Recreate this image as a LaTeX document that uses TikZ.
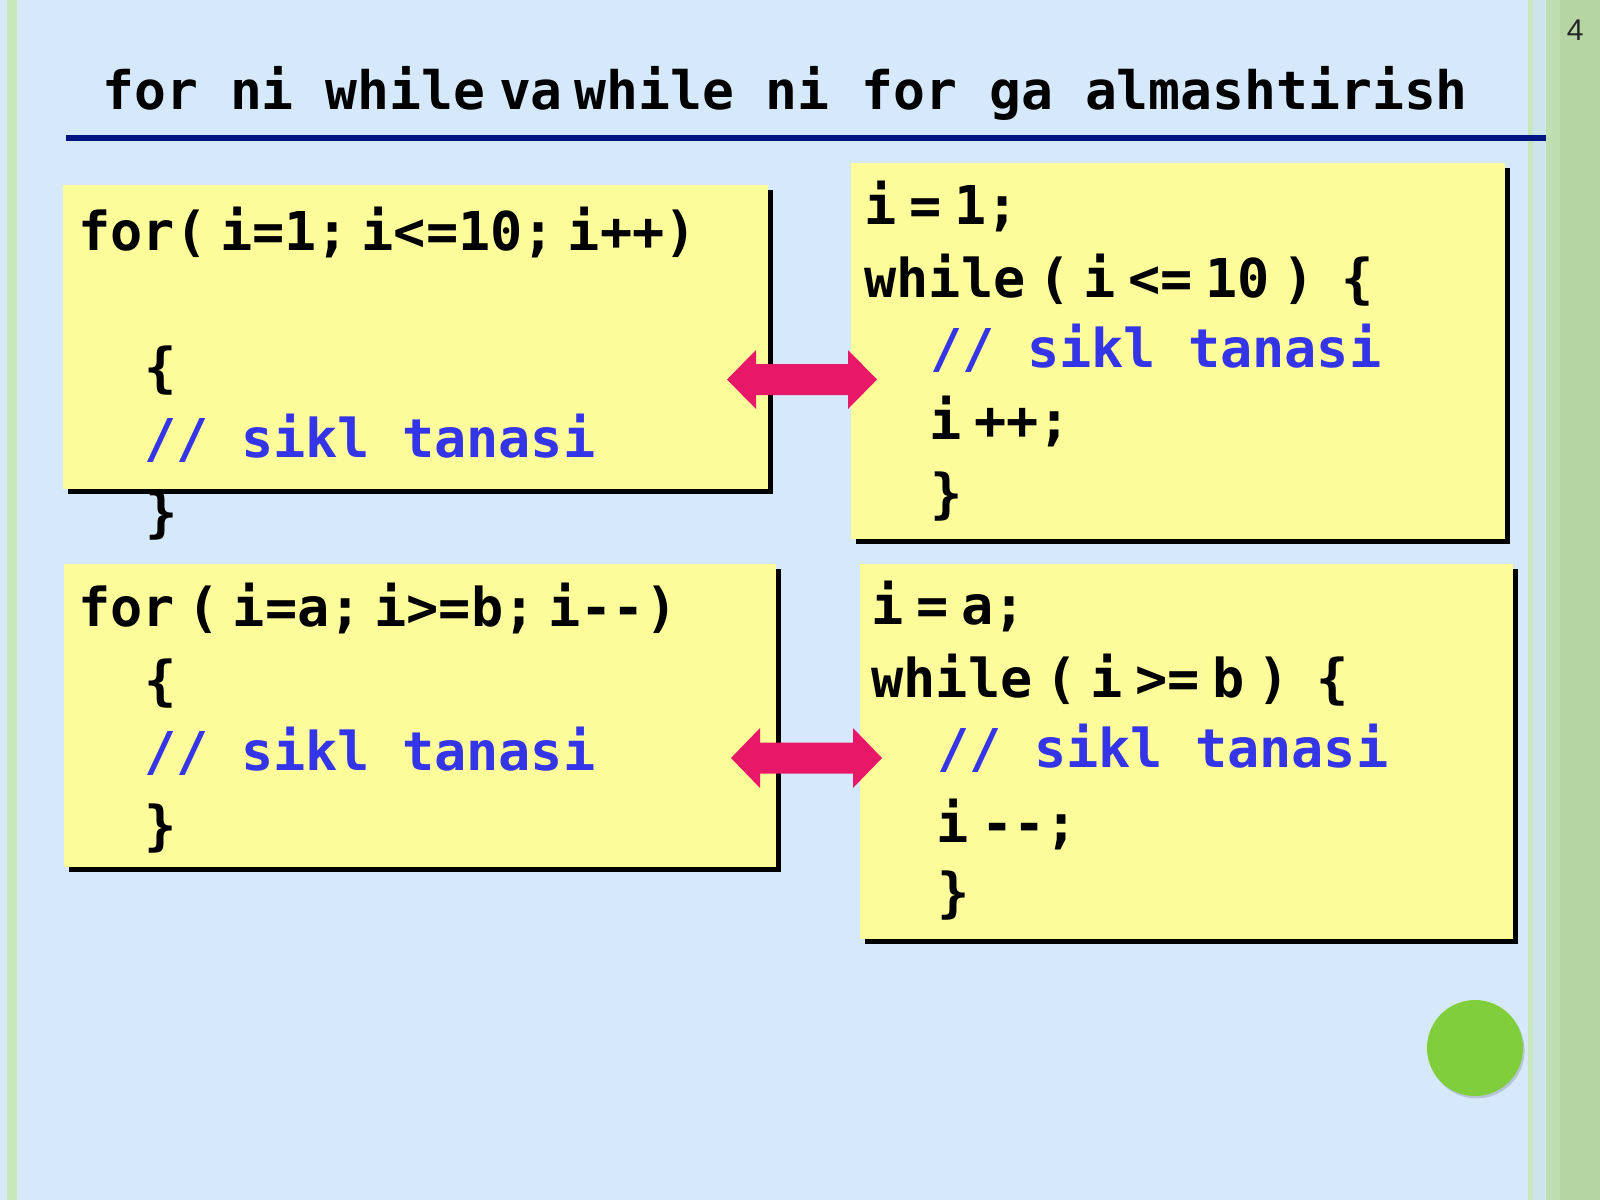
\documentclass[tikz,border=0pt]{standalone}
\usepackage{fontspec}
\usetikzlibrary{shadows}
\newfontfamily\codefont{DejaVu Sans Mono}
\newfontfamily\numfont{Liberation Sans}
\definecolor{bgblue}{RGB}{214,233,251}
\definecolor{boxyellow}{RGB}{253,252,155}
\definecolor{cmtblue}{RGB}{52,52,232}
\definecolor{rulenavy}{RGB}{0,20,130}
\definecolor{arrowpink}{RGB}{232,24,104}
\definecolor{dotgreen}{RGB}{128,206,60}
\definecolor{stripA}{RGB}{200,232,188}
\definecolor{stripB}{RGB}{206,228,236}
\definecolor{stripC}{RGB}{190,222,178}
\definecolor{stripD}{RGB}{181,214,163}
\newcommand{\nsp}{\hspace{0.24em}}
\newcommand{\wsp}{\hspace{0.5em}}
\tikzset{
  codebox/.style={fill=boxyellow, draw=none, inner sep=0pt,
    drop shadow={shadow xshift=2.5pt, shadow yshift=-2.5pt, fill=black, opacity=1}},
  code/.style={font={\codefont\bfseries\fontsize{26.75pt}{32pt}\selectfont},
    anchor=base west, inner sep=0pt, text=black},
  cmt/.style={code, text=cmtblue},
  titletext/.style={font={\codefont\bfseries\fontsize{26.5pt}{32pt}\selectfont},
    anchor=base west, inner sep=0pt, text=black},
  dbl/.style={fill=arrowpink, draw=none}
}
\begin{document}
\begin{tikzpicture}[x=0.5pt,y=-0.5pt]
\useasboundingbox (0,0) rectangle (1600,1200);
% background and side strips
\fill[bgblue] (0,0) rectangle (1600,1200);
\fill[stripA] (7,0) rectangle (17,1200);
\fill[stripA] (1528,0) rectangle (1533,1200);
\fill[stripB] (1533,0) rectangle (1546,1200);
\fill[stripC] (1546,0) rectangle (1560,1200);
\fill[stripD] (1560,0) rectangle (1600,1200);
% page number
\node[anchor=base east, inner sep=0pt, font={\numfont\fontsize{15pt}{18pt}\selectfont}, text=black!85] (pnum) at (1584,40) {4};
% title
\node[titletext] (title) at (102,109) {for ni while\hspace{0.26em}va\hspace{0.22em}while ni for ga almashtirish};
\draw[rulenavy, line width=3pt] (66,138) -- (1546,138);
% boxes
\node[codebox, minimum width=352.5pt, minimum height=152pt] (b1) at (415.5,337) {};
\node[codebox, minimum width=327pt, minimum height=188pt] (b2) at (1178,351) {};
\node[codebox, minimum width=356pt, minimum height=151.5pt] (b3) at (420,715.5) {};
\node[codebox, minimum width=326.5pt, minimum height=187.5pt] (b4) at (1186.5,751.5) {};
% box 1
\node[code] (b1l1) at (78,250) {for(\nsp i=1;\nsp i<=10;\nsp i++)};
\node[code] (b1l2) at (144,386) {\{};
\node[cmt]  (b1l3) at (144,457) {// sikl tanasi};
\node[code] (b1l4) at (145,531) {\}};
% box 2
\node[code] (b2l1) at (864,224) {i\nsp =\nsp 1;};
\node[code] (b2l2) at (864,297) {while\nsp (\nsp i\nsp <=\nsp 10\nsp )\wsp \{};
\node[cmt]  (b2l3) at (930,367) {// sikl tanasi};
\node[code] (b2l4) at (929,439) {i\nsp ++;};
\node[code] (b2l5) at (930,512) {\}};
% box 3
\node[code] (b3l1) at (78,626) {for\nsp (\nsp i=a;\nsp i>=b;\nsp i--)};
\node[code] (b3l2) at (144,699) {\{};
\node[cmt]  (b3l3) at (144,770) {// sikl tanasi};
\node[code] (b3l4) at (144,844) {\}};
% box 4
\node[code] (b4l1) at (871,624) {i\nsp =\nsp a;};
\node[code] (b4l2) at (871,697) {while\nsp (\nsp i\nsp >=\nsp b\nsp )\wsp \{};
\node[cmt]  (b4l3) at (937,767) {// sikl tanasi};
\node[code] (b4l4) at (936,842) {i\nsp --;};
\node[code] (b4l5) at (937,911) {\}};
% double arrows
\coordinate (a1) at (802,379.5);
\coordinate (a2) at (806.5,758);
\fill[dbl, shift={(a1)}] (-75,0) -- (-46,-29.5) -- (-46,-15.5) -- (46,-15.5) -- (46,-29.5)
  -- (75,0) -- (46,29.5) -- (46,15.5) -- (-46,15.5) -- (-46,29.5) -- cycle;
\fill[dbl, shift={(a2)}] (-75.5,0) -- (-46.5,-30) -- (-46.5,-15.5) -- (46.5,-15.5) -- (46.5,-30)
  -- (75.5,0) -- (46.5,30) -- (46.5,15.5) -- (-46.5,15.5) -- (-46.5,30) -- cycle;
% green dot
\node[circle, fill=dotgreen, minimum size=48pt, inner sep=0pt,
  drop shadow={shadow xshift=0.8pt, shadow yshift=-1.2pt, fill=black!30!bgblue, opacity=0.5}] (dot) at (1475,1048) {};
\end{tikzpicture}
\end{document}
